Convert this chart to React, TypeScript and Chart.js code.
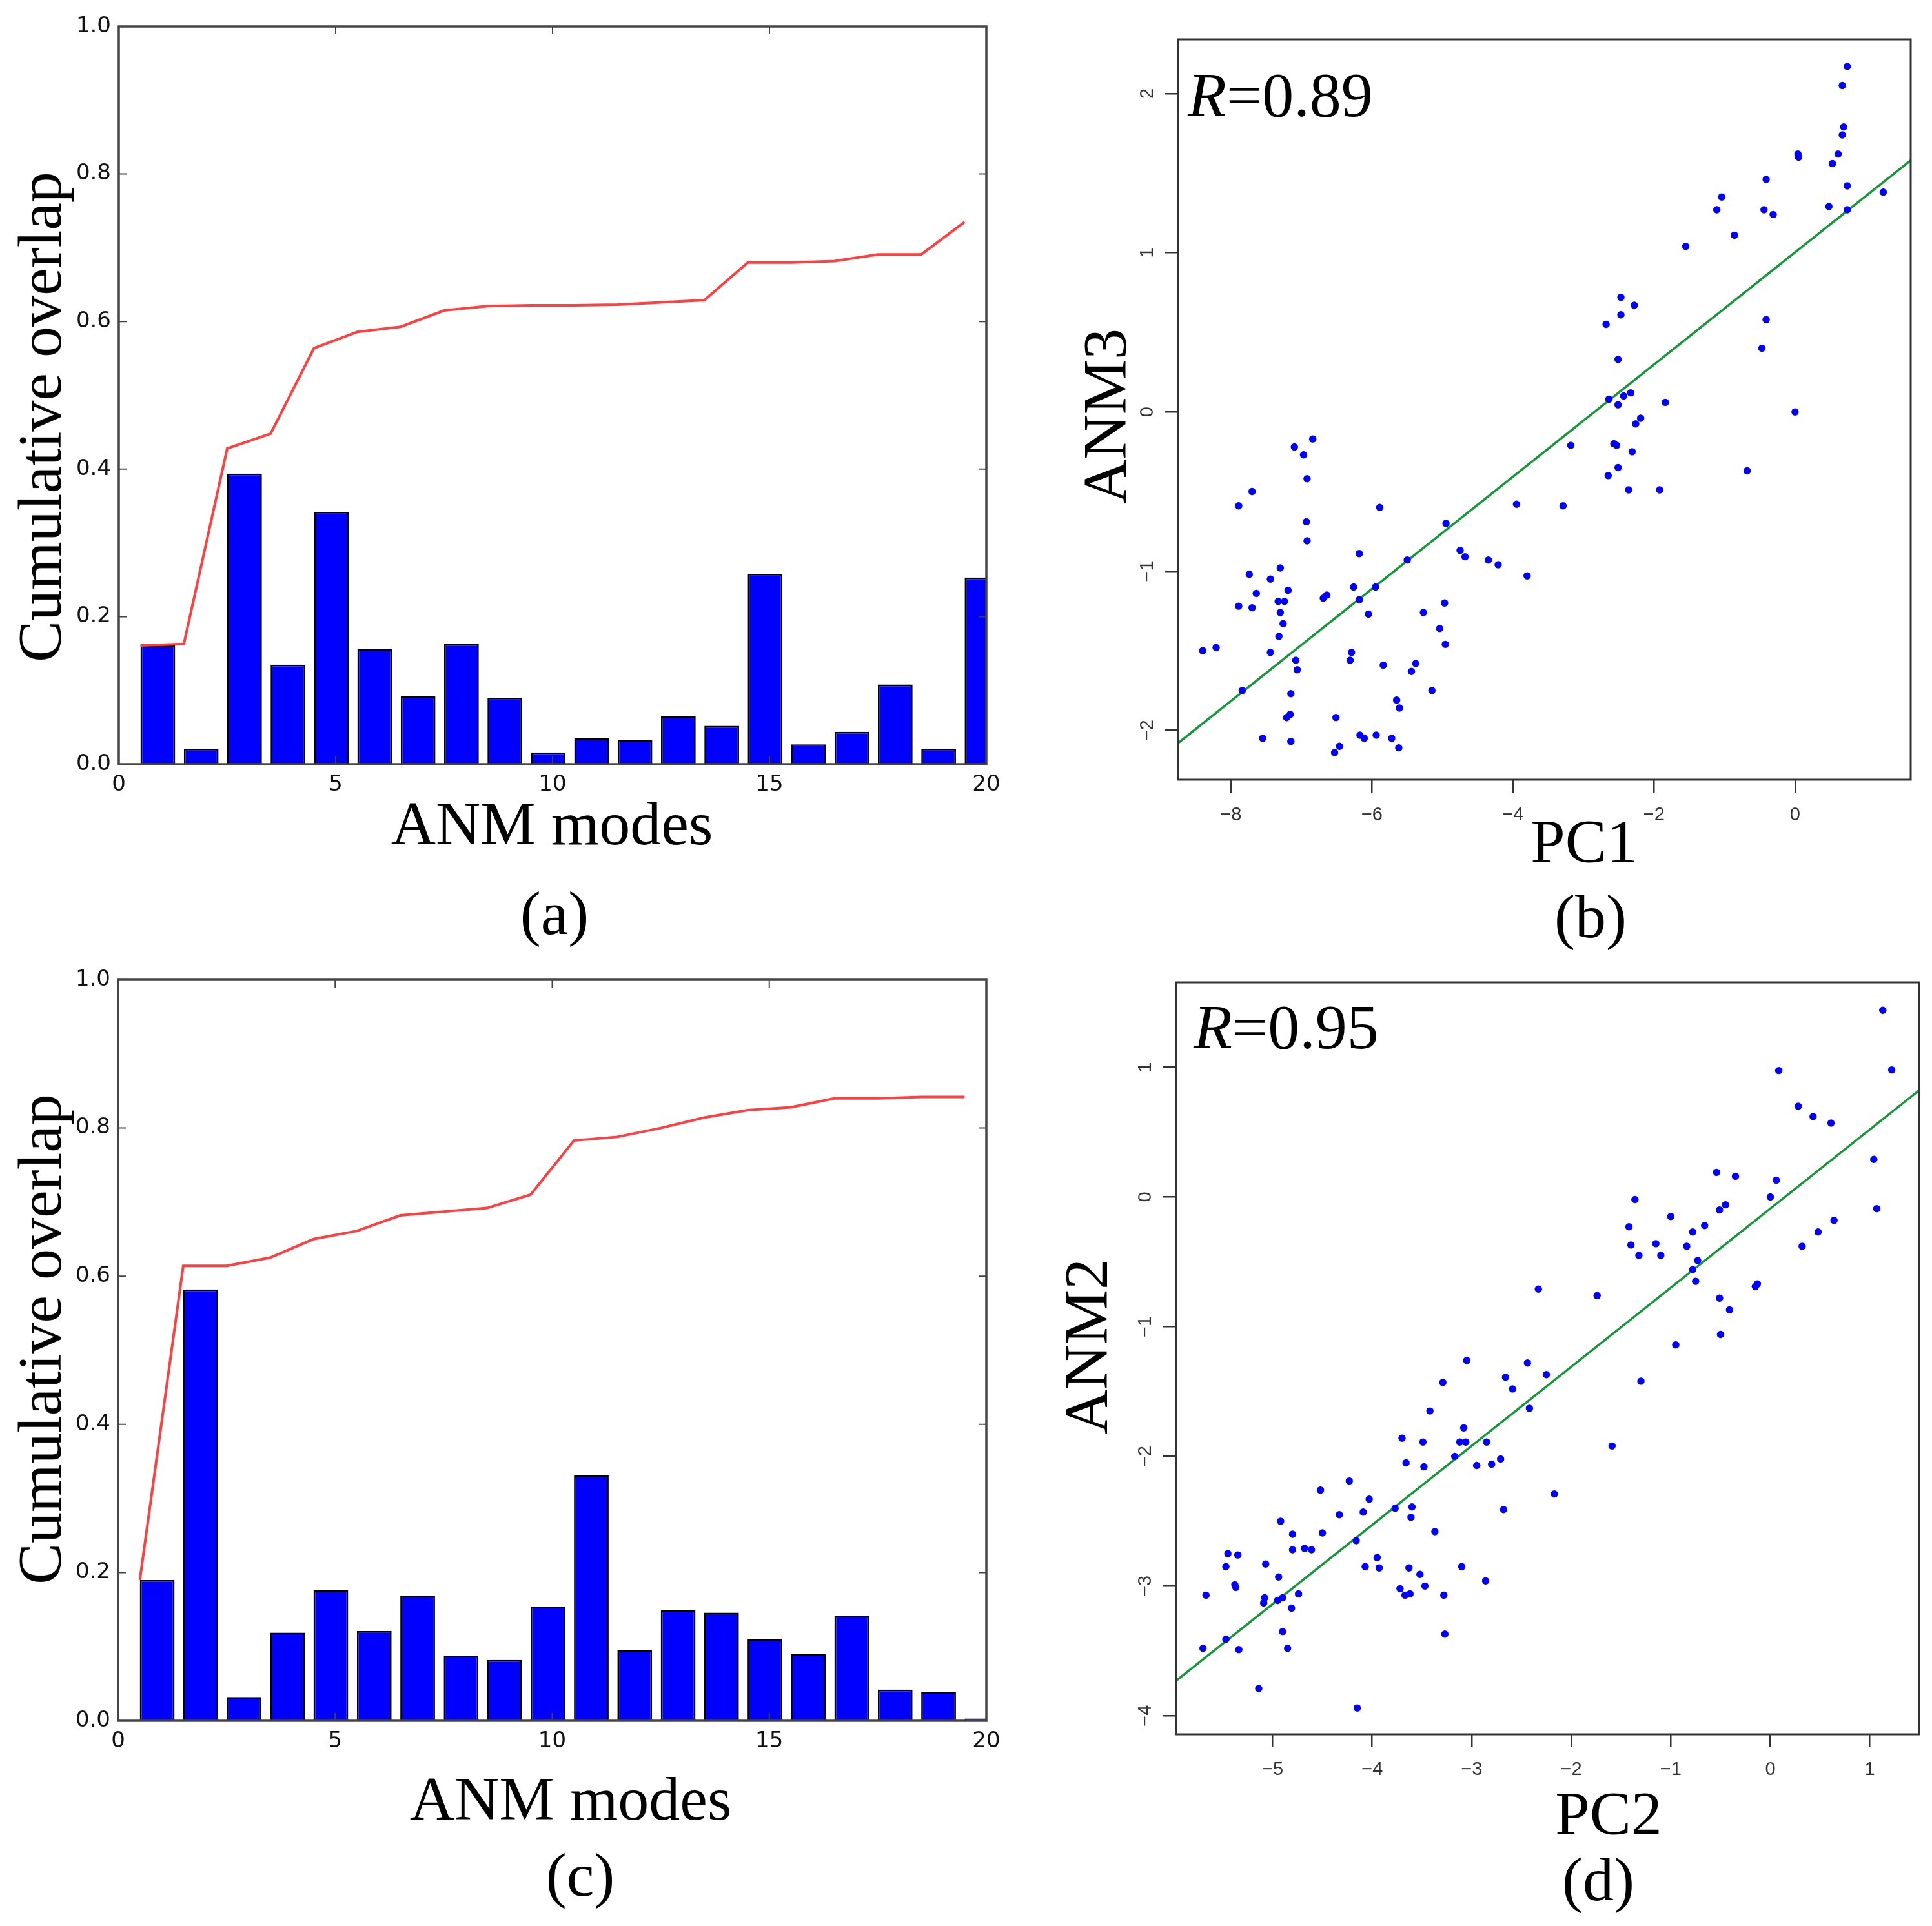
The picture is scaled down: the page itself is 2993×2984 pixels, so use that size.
import React, { useEffect, useRef } from 'react';
import { Chart, registerables } from 'chart.js';
Chart.register(...registerables);

// ---------- data ----------
const modes = [1, 2, 3, 4, 5, 6, 7, 8, 9, 10, 11, 12, 13, 14, 15, 16, 17, 18, 19, 20];

const overlapA = [0.161, 0.021, 0.394, 0.135, 0.342, 0.156, 0.092, 0.163, 0.090, 0.016, 0.035, 0.033, 0.065, 0.052, 0.258, 0.027, 0.044, 0.108, 0.021, 0.253];
const cumulativeA = [0.161, 0.163, 0.428, 0.448, 0.564, 0.586, 0.593, 0.615, 0.621, 0.622, 0.622, 0.623, 0.626, 0.629, 0.680, 0.680, 0.682, 0.691, 0.691, 0.735];

const overlapC = [0.190, 0.582, 0.032, 0.119, 0.176, 0.121, 0.169, 0.088, 0.082, 0.154, 0.331, 0.095, 0.149, 0.146, 0.110, 0.090, 0.142, 0.042, 0.039, 0.003];
const cumulativeC = [0.190, 0.614, 0.614, 0.625, 0.650, 0.661, 0.682, 0.687, 0.692, 0.710, 0.783, 0.788, 0.800, 0.814, 0.824, 0.828, 0.840, 0.840, 0.842, 0.842];

const pc1 = [0.74, 0.67, 0.69, 0.67, 0.61, 0.53, 0.04, 0.05, 0.74, 1.25, 0.48, 0.74, -0.41, -0.44, -0.31, -1.04, -1.11, -0.86, -1.55, -0.41, -0.47, 0.0, -0.68,
  -2.47, -2.28, -2.47, -2.68, -2.51, -2.64, -2.43, -2.33, -2.51, -1.84, -2.19, -2.26, -2.57, -2.53, -2.31, -2.51, -2.65, -2.36, -1.92, -3.18, -3.29, -3.95, -3.80,
  -4.35, -4.21, -4.75, -4.68, -4.95, -5.50, -5.89, -6.18, -5.95, -6.26, -6.18, -6.05, -5.27, -4.97, -5.04, -4.96, -6.29, -6.31, -5.84, -5.38, -5.44, -5.15, -5.65,
  -5.61, -6.51, -6.17, -6.11, -5.94, -5.72, -5.62, -6.46, -6.53, -6.64, -6.69, -7.10, -6.97, -6.84, -6.92, -6.93, -6.92, -7.70, -7.89, -7.74, -7.44, -7.30, -7.64,
  -7.89, -7.70, -7.33, -7.24, -7.19, -7.30, -7.26, -7.32, -7.44, -7.08, -7.06, -8.40, -8.21, -7.84, -7.15, -7.16, -7.21, -7.55, -7.15];
const anm3 = [2.17, 2.05, 1.79, 1.74, 1.62, 1.56, 1.62, 1.60, 1.42, 1.38, 1.29, 1.27, 1.46, 1.27, 1.24, 1.35, 1.27, 1.11, 1.04, 0.58, 0.40, 0.0, -0.37,
  0.72, 0.67, 0.61, 0.55, 0.33, 0.08, 0.10, 0.12, 0.045, 0.06, -0.04, -0.075, -0.20, -0.21, -0.25, -0.35, -0.40, -0.49, -0.49, -0.21, -0.59, -0.58, -1.03,
  -0.93, -0.96, -0.87, -0.91, -0.70, -0.93, -0.60, -0.89, -1.10, -1.10, -1.18, -1.27, -1.26, -1.20, -1.36, -1.46, -1.51, -1.56, -1.59, -1.58, -1.63, -1.75, -1.81,
  -1.86, -1.92, -2.03, -2.05, -2.03, -2.05, -2.11, -2.10, -2.14, -1.15, -1.17, -0.22, -0.27, -0.17, -0.42, -0.69, -0.81, -0.50, -0.59, -1.02, -1.05, -0.98, -1.14,
  -1.22, -1.23, -1.19, -1.19, -1.12, -1.26, -1.33, -1.41, -1.51, -1.56, -1.62, -1.50, -1.48, -1.75, -1.77, -1.90, -1.92, -2.05, -2.07];

const pc2 = [1.13, 1.22, 0.085, 0.28, 0.43, 0.61, 1.04, 1.07, 0.48, 0.64, 0.32, 0.06, 0.0, -0.35, -0.54, -0.45, -0.51, -0.66, -0.78, -0.84, -0.73, -0.78, -0.75,
  -0.13, -0.15, -0.51, -0.41, -0.50, -0.95, -1.00, -1.36, -1.42, -1.40, -1.32, -1.15, -1.10, -1.30, -1.74, -1.59, -2.33, -2.44, -2.25, -2.42, -2.17, -2.66, -2.59,
  -2.71, -2.80, -2.85, -2.68, -2.86, -3.05, -3.08, -3.12, -3.06, -3.17, -2.95, -3.29, -3.42, -3.49, -3.48, -3.70, -3.66, -3.77, -3.60, -3.61, -3.37, -3.63, -3.52,
  -3.47, -3.72, -3.67, -3.62, -3.28, -3.10, -3.27, -4.23, -4.03, -4.09, -4.33, -4.16, -3.95, -3.93, -4.07, -4.15, -4.52, -4.50, -4.92, -4.80, -4.68, -4.61, -4.80,
  -5.07, -4.94, -4.74, -4.90, -4.95, -5.08, -5.09, -4.81, -4.90, -4.85, -5.14, -5.45, -5.35, -5.47, -5.38, -5.37, -5.67, -5.47, -5.34, -5.70];
const anm2 = [1.44, 0.98, 0.975, 0.70, 0.62, 0.57, 0.29, -0.09, -0.27, -0.18, -0.38, 0.13, 0.0, 0.16, 0.19, -0.06, -0.10, -0.22, -0.27, -0.38, -0.49, -0.56, -0.65,
  -0.67, -0.69, -0.78, -0.87, -1.06, -1.14, -0.15, -0.02, -0.23, -0.37, -0.45, -0.36, -0.45, -1.42, -0.76, -1.92, -0.71, -1.28, -1.37, -1.63, -2.29, -1.39, -1.48,
  -2.02, -2.06, -1.89, -2.41, -2.96, -1.26, -1.78, -1.89, -1.89, -2.00, -2.07, -1.43, -1.65, -1.89, -2.08, -1.86, -2.05, -2.40, -2.39, -2.47, -2.58, -2.86, -2.91,
  -3.00, -3.02, -3.07, -3.06, -3.07, -2.85, -3.37, -2.19, -2.33, -2.43, -2.45, -2.65, -2.78, -2.86, -2.85, -3.94, -2.26, -2.59, -2.50, -2.60, -2.71, -2.72, -2.72,
  -2.83, -2.93, -3.06, -3.09, -3.11, -3.09, -3.13, -3.17, -3.35, -3.48, -3.79, -2.75, -2.76, -2.85, -2.99, -3.01, -3.07, -3.41, -3.49, -3.48];

// regression line end points
const fitBX = [-8.75, 1.64];
const fitBY = [-2.08, 1.58];
const fitDX = [-5.97, 1.495];
const fitDY = [-3.73, 0.822];

// ---------- layout ----------
const M = 150;
type Box = { l: number; t: number; r: number; b: number };
const boxA: Box = { l: 184, t: 41, r: 1528, b: 1184 };
const boxB: Box = { l: 1825, t: 61, r: 2960, b: 1208 };
const boxC: Box = { l: 183, t: 1518, r: 1528, b: 2666 };
const boxD: Box = { l: 1822, t: 1522, r: 2973, b: 2687 };

const framePlugin = (inward: boolean, color: string, width: number) => ({
  id: 'frameBox',
  afterDatasetsDraw(chart: any) {
    const { ctx, chartArea, scales } = chart;
    const { left, right, top, bottom } = chartArea;
    ctx.save();
    if (inward) {
      ctx.strokeStyle = color;
      ctx.lineWidth = 2;
      const tl = 12;
      scales.x.ticks.forEach((t: any) => {
        const px = scales.x.getPixelForValue(t.value);
        ctx.beginPath();
        ctx.moveTo(px, bottom); ctx.lineTo(px, bottom - tl);
        ctx.moveTo(px, top); ctx.lineTo(px, top + tl);
        ctx.stroke();
      });
      scales.y.ticks.forEach((t: any) => {
        const py = scales.y.getPixelForValue(t.value);
        ctx.beginPath();
        ctx.moveTo(left, py); ctx.lineTo(left + tl, py);
        ctx.moveTo(right, py); ctx.lineTo(right - tl, py);
        ctx.stroke();
      });
    }
    ctx.strokeStyle = color;
    ctx.lineWidth = width;
    ctx.strokeRect(left, top, right - left, bottom - top);
    ctx.restore();
  },
});

const mplFont = { family: '"DejaVu Sans", sans-serif', size: 34 };
const rFont = { family: '"Liberation Sans", Arial, sans-serif', size: 29 };
const fmtR = (v: any) => (Number(v) < 0 ? '\u2212' + Math.abs(Number(v)) : String(v));

function barConfig(overlap: number[], cumulative: number[]): any {
  return {
    type: 'bar',
    data: {
      datasets: [
        {
          type: 'line',
          data: modes.map((m, i) => ({ x: m - 0.5, y: cumulative[i] })),
          borderColor: '#ff4040',
          borderWidth: 4,
          pointRadius: 0,
          tension: 0,
          order: 0,
        },
        {
          type: 'bar',
          data: modes.map((m, i) => ({ x: m - 0.1, y: overlap[i] })),
          backgroundColor: '#0000ff',
          borderColor: '#000000',
          borderWidth: 2.7,
          categoryPercentage: 1,
          barPercentage: 0.8,
          clip: 0,
          order: 1,
        },
      ],
    },
    options: {
      animation: false,
      responsive: false,
      devicePixelRatio: 1,
      layout: { padding: { top: M, right: M, left: 0, bottom: 0 } },
      plugins: { legend: { display: false }, tooltip: { enabled: false } },
      scales: {
        x: {
          type: 'linear', min: 0, max: 20, offset: false,
          ticks: { stepSize: 5, font: mplFont, color: '#111', padding: 12, maxRotation: 0, autoSkip: false },
          grid: { display: false, drawTicks: false },
          border: { display: false },
          afterFit: (s: any) => { s.height = M; },
        },
        y: {
          type: 'linear', min: 0, max: 1,
          ticks: { stepSize: 0.2, font: mplFont, color: '#111', padding: 12, callback: (v: any) => Number(v).toFixed(1) },
          grid: { display: false, drawTicks: false },
          border: { display: false },
          afterFit: (s: any) => { s.width = M; },
        },
      },
    },
    plugins: [framePlugin(true, '#444', 3.5)],
  };
}

function scatterConfig(xs: number[], ys: number[], fx: number[], fy: number[], xr: number[], yr: number[], xStep: number): any {
  return {
    type: 'scatter',
    data: {
      datasets: [
        {
          type: 'scatter',
          data: xs.map((x, i) => ({ x, y: ys[i] })),
          backgroundColor: '#0000ff',
          pointRadius: 5.7,
          borderWidth: 0,
          order: 0,
        },
        {
          type: 'line',
          data: fx.map((x, i) => ({ x, y: fy[i] })),
          borderColor: '#17963b',
          borderWidth: 3.5,
          pointRadius: 0,
          order: 1,
          clip: 0,
        },
      ],
    },
    options: {
      animation: false,
      responsive: false,
      devicePixelRatio: 1,
      layout: { padding: { top: M, right: M, left: 0, bottom: 0 } },
      plugins: { legend: { display: false }, tooltip: { enabled: false } },
      scales: {
        x: {
          type: 'linear', min: xr[0], max: xr[1],
          ticks: { stepSize: xStep, includeBounds: false, font: rFont, color: '#333', padding: 18, maxRotation: 0, autoSkip: false, callback: fmtR },
          grid: { drawOnChartArea: false, drawTicks: true, tickLength: 20, color: '#333', lineWidth: 2.5 },
          border: { display: false },
          afterFit: (s: any) => { s.height = M; },
        },
        y: {
          type: 'linear', min: yr[0], max: yr[1],
          ticks: { stepSize: 1, includeBounds: false, font: rFont, color: '#333', padding: 10, minRotation: 90, maxRotation: 90, crossAlign: 'center', autoSkip: false, callback: fmtR },
          grid: { drawOnChartArea: false, drawTicks: true, tickLength: 20, color: '#333', lineWidth: 2.5 },
          border: { display: false },
          afterFit: (s: any) => { s.width = M; },
        },
      },
    },
    plugins: [framePlugin(false, '#333', 3)],
  };
}

function Panel({ box, make }: { box: Box; make: () => any }) {
  const ref = useRef<HTMLCanvasElement>(null);
  useEffect(() => {
    const chart = new Chart(ref.current as HTMLCanvasElement, make());
    return () => chart.destroy();
  }, []);
  const W = box.r - box.l + 2 * M;
  const H = box.b - box.t + 2 * M;
  return (
    <canvas
      ref={ref}
      width={W}
      height={H}
      style={{ position: 'absolute', left: box.l - M, top: box.t - M, width: W, height: H }}
    />
  );
}

function Label({ x, y, rot, size = 96, children }: { x: number; y: number; rot?: boolean; size?: number; children: React.ReactNode }) {
  return (
    <div
      style={{
        position: 'absolute', left: x, top: y,
        transform: `translate(-50%, -50%)${rot ? ' rotate(-90deg)' : ''}`,
        fontFamily: '"Liberation Serif", "Times New Roman", serif',
        fontSize: size, lineHeight: 1, whiteSpace: 'nowrap', color: '#000',
      }}
    >
      {children}
    </div>
  );
}

function RText({ x, baseTop, text }: { x: number; baseTop: number; text: string }) {
  return (
    <div
      style={{
        position: 'absolute', left: x, top: baseTop,
        fontFamily: '"Liberation Serif", "Times New Roman", serif',
        fontSize: 98, lineHeight: 1, whiteSpace: 'nowrap', color: '#000',
      }}
    >
      <span style={{ fontStyle: 'italic' }}>R</span>{text}
    </div>
  );
}

export default function App() {
  return (
    <div style={{ position: 'absolute', left: 0, top: 0, width: 2993, height: 2984, overflow: 'hidden', background: '#fff' }}>
      <Panel box={boxA} make={() => barConfig(overlapA, cumulativeA)} />
      <Panel box={boxB} make={() => scatterConfig(pc1, anm3, fitBX, fitBY, [-8.75, 1.64], [-2.31, 2.34], 2)} />
      <Panel box={boxC} make={() => barConfig(overlapC, cumulativeC)} />
      <Panel box={boxD} make={() => scatterConfig(pc2, anm2, fitDX, fitDY, [-5.97, 1.495], [-4.143, 1.655], 1)} />

      <Label x={62} y={646} rot>Cumulative overlap</Label>
      <Label x={855} y={1276}>ANM modes</Label>
      <Label x={859} y={1415}>(a)</Label>

      <Label x={1712} y={645} rot>ANM3</Label>
      <Label x={2454} y={1304}>PC1</Label>
      <Label x={2464} y={1420}>(b)</Label>
      <RText x={1840} baseTop={98} text="=0.89" />

      <Label x={62} y={2075} rot>Cumulative overlap</Label>
      <Label x={884} y={2787}>ANM modes</Label>
      <Label x={899} y={2905}>(c)</Label>

      <Label x={1683} y={2086} rot>ANM2</Label>
      <Label x={2492} y={2810}>PC2</Label>
      <Label x={2476} y={2912}>(d)</Label>
      <RText x={1849} baseTop={1542} text="=0.95" />
    </div>
  );
}
